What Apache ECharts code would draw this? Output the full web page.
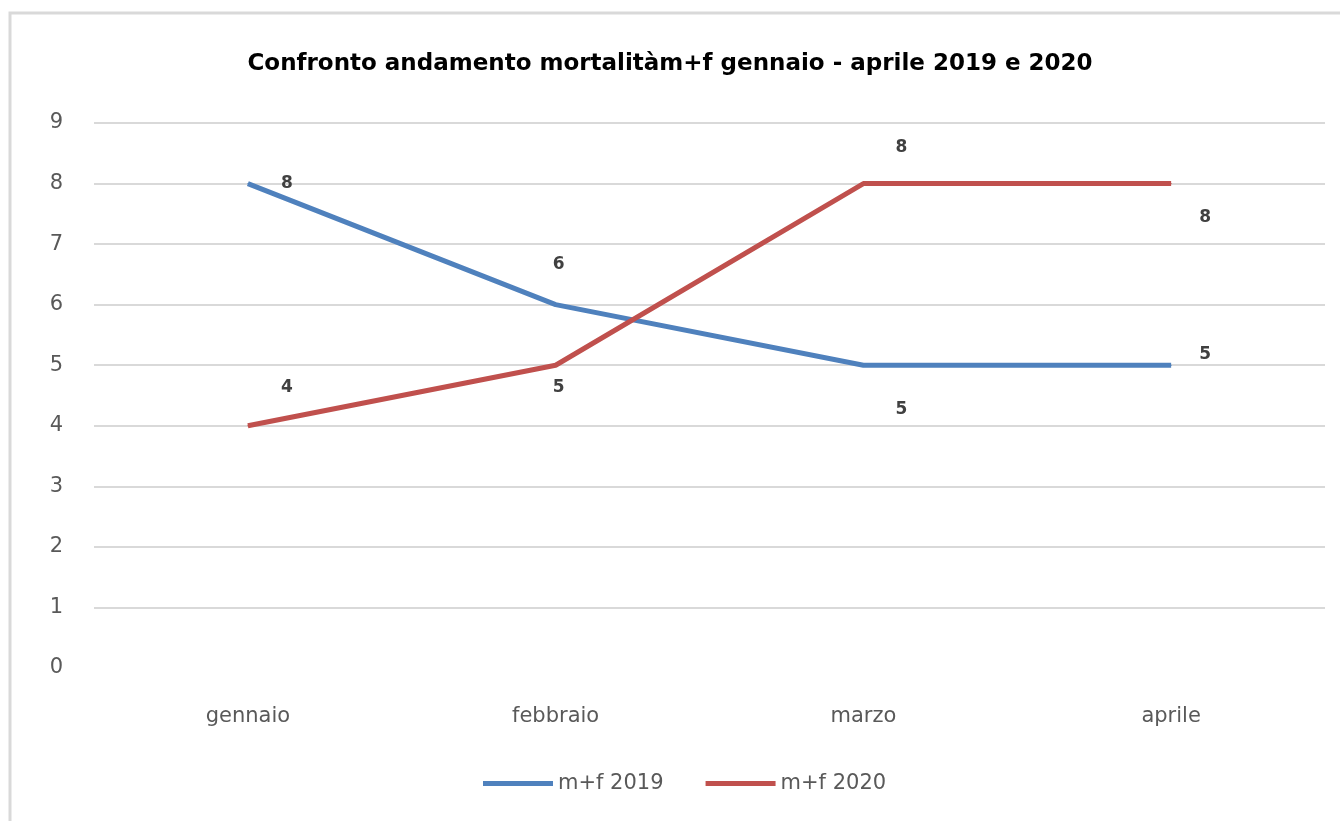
<!DOCTYPE html>
<html>
<head>
<meta charset="utf-8">
<script src="https://cdn.jsdelivr.net/npm/echarts@6/dist/echarts.min.js"></script>
<style>
  html, body { margin: 0; padding: 0; background: #fff; }
  #chart { width: 1340px; height: 821px; }
</style>
</head>
<body>
<div id="chart"></div>
<script>
// dati
const months = ['gennaio', 'febbraio', 'marzo', 'aprile']
const mf2019 = [8, 6, 5, 5]
const mf2020 = [4, 5, 8, 8]
const yTicks = [0, 1, 2, 3, 4, 5, 6, 7, 8, 9]

// spostamento etichette (come nel grafico originale)
const off2019 = [[39, 0], [3, -40], [38, 44], [34, -11]]
const off2020 = [[39, -38], [3, 22], [38, -36], [34, 34]]

function withLabels(values, offsets) {
  return values.map((v, i) => ({
    value: v,
    label: { offset: offsets[i] }
  }))
}

const font = 'DejaVu Sans, Liberation Sans, Arial, sans-serif'

let myChart = echarts.init(document.getElementById('chart'))
let option = {
  backgroundColor: '#fff',
  animation: false,
  title: {
    text: 'Confronto andamento mortalitàm+f gennaio - aprile 2019 e 2020',
    left: 'center',
    top: 48,
    textStyle: { fontFamily: font, fontSize: 23, fontWeight: 'bold', color: '#000' }
  },
  graphic: [
    {
      type: 'rect',
      shape: { x: 10, y: 13, width: 1345, height: 830 },
      style: { fill: 'none', stroke: '#d9d9d9', lineWidth: 3 },
      silent: true
    }
  ],
  legend: {
    bottom: 22,
    left: 478,
    icon: 'rect',
    itemWidth: 70,
    itemHeight: 5,
    itemGap: 42,
    textStyle: { fontFamily: font, fontSize: 21, color: '#595959' },
    data: ['m+f 2019', 'm+f 2020']
  },
  grid: { left: 94, right: 15, top: 123, bottom: 153 },
  xAxis: {
    type: 'category',
    data: months,
    boundaryGap: true,
    axisLine: { show: false },
    axisTick: { show: false },
    axisLabel: { fontFamily: font, fontSize: 21, color: '#595959', margin: 38 }
  },
  yAxis: {
    type: 'value',
    min: yTicks[0],
    max: yTicks[yTicks.length - 1],
    interval: 1,
    axisLine: { show: false },
    axisTick: { show: false },
    axisLabel: { fontFamily: font, fontSize: 21, color: '#595959', margin: 31 },
    splitLine: { showMinLine: false, lineStyle: { color: '#d9d9d9', width: 2 } }
  },
  series: [
    {
      name: 'm+f 2019',
      type: 'line',
      data: withLabels(mf2019, off2019),
      symbol: 'circle',
      symbolSize: 1,
      color: '#4f81bd',
      lineStyle: { width: 5, color: '#4f81bd' },
      label: {
        show: true,
        position: 'inside',
        fontFamily: font,
        fontSize: 17,
        fontWeight: 'bold',
        color: '#404040'
      }
    },
    {
      name: 'm+f 2020',
      type: 'line',
      data: withLabels(mf2020, off2020),
      symbol: 'circle',
      symbolSize: 1,
      color: '#c0504d',
      lineStyle: { width: 5, color: '#c0504d' },
      label: {
        show: true,
        position: 'inside',
        fontFamily: font,
        fontSize: 17,
        fontWeight: 'bold',
        color: '#404040'
      }
    }
  ]
}
myChart.setOption(option)
</script>
</body>
</html>
